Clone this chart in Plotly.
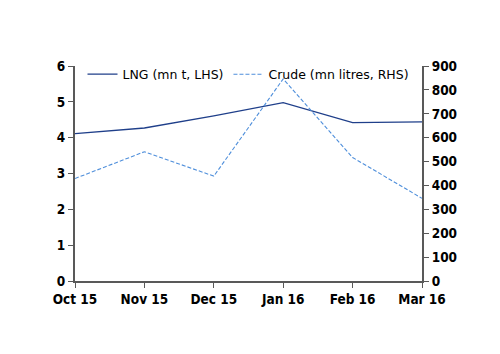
import plotly.graph_objects as go

months = ["Oct 15", "Nov 15", "Dec 15", "Jan 16", "Feb 16", "Mar 16"]
lng = [4.11, 4.27, 4.61, 4.98, 4.42, 4.44]
crude = [429, 541, 439, 846, 517, 346]

fig = go.Figure()
fig.add_trace(go.Scatter(x=months, y=lng, name="LNG (mn t, LHS)", mode="lines",
                         line=dict(color="#1F3F8A", width=1.3)))
fig.add_trace(go.Scatter(x=months, y=crude, name="Crude (mn litres, RHS)", mode="lines",
                         yaxis="y2", line=dict(color="#4F8FDB", width=1.1, dash="4px,2px")))

axcol = "#595959"
tf = dict(family="DejaVu Sans Condensed, DejaVu Sans", size=13.5, color="#000000", weight="bold")
fig.update_layout(
    width=500, height=354,
    margin=dict(l=75, r=78, t=66, b=73),
    paper_bgcolor="white", plot_bgcolor="white",
    font=dict(family="DejaVu Sans", size=12, color="#000"),
    showlegend=True,
    legend=dict(orientation="h", x=0.5, xanchor="center", y=1.03, yanchor="top",
                bgcolor="rgba(0,0,0,0)", font=dict(size=12.5), itemwidth=30,
                tracegroupgap=0),
    xaxis=dict(type="category", range=[0, 5], showgrid=False, zeroline=False,
               showline=True, linecolor=axcol, linewidth=2, ticks="outside",
               tickcolor=axcol, ticklen=5, tickfont=tf),
    yaxis=dict(range=[0, 6], dtick=1, showgrid=False, zeroline=False,
               showline=True, linecolor=axcol, linewidth=2, ticks="outside",
               tickcolor=axcol, ticklen=5, tickfont=tf),
    yaxis2=dict(range=[0, 900], dtick=100, overlaying="y", side="right",
                showgrid=False, zeroline=False, showline=True, linecolor=axcol,
                linewidth=2, ticks="outside", tickcolor=axcol, ticklen=5, tickfont=tf),
)
fig.write_html("out.html")
